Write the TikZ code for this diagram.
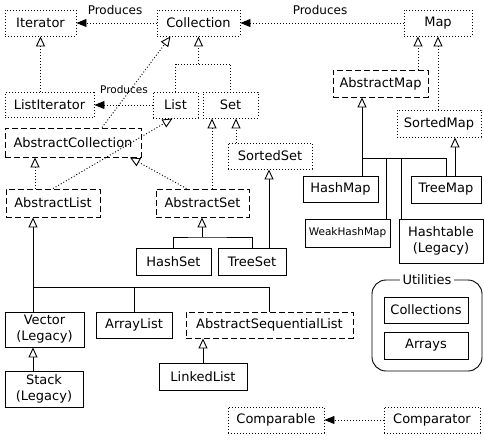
\documentclass[tikz,border=0pt]{standalone}
\usepackage{fontspec}
\setmainfont{DejaVu Sans}
\usepackage{tikz}
\usetikzlibrary{arrows.meta}
\usetikzlibrary{calc}

\begin{document}
\begin{tikzpicture}[x=1pt, y=-1pt, line width=0.9pt,
  box/.style={inner sep=0pt, align=center, font=\fontsize{13}{16}\selectfont},
  iface/.style={box, draw, dash pattern=on 1pt off 2pt},
  abstr/.style={box, draw, dash pattern=on 6pt off 3pt},
  concr/.style={box, draw},
  impl/.style={dash pattern=on 1pt off 2pt, -{Triangle[open, length=10pt, width=9pt]}},
  ext/.style={-{Triangle[open, length=10pt, width=9pt]}},
  prod/.style={dash pattern=on 1pt off 2pt, -{Triangle[length=10pt, width=8pt]}},
  lbl/.style={inner sep=0pt, font=\fontsize{12}{14}\selectfont}]
  \useasboundingbox (0,0) rectangle (484,439);

  % interfaces
  \node[iface, minimum width=71, minimum height=26] (Iterator) at (40.5,23) {Iterator};
  \node[iface, minimum width=83, minimum height=26] (Collection) at (198.5,23) {Collection};
  \node[iface, minimum width=68, minimum height=26] (Map) at (438,23) {Map};
  \node[iface, minimum width=89, minimum height=25] (ListIterator) at (49.5,105) {ListIterator};
  \node[iface, minimum width=45, minimum height=26] (List) at (175.5,105) {List};
  \node[iface, minimum width=55, minimum height=26] (Set) at (230.5,105) {Set};
  \node[iface, minimum width=84, minimum height=27] (SortedMap) at (439,123.5) {SortedMap};
  \node[iface, minimum width=84, minimum height=26] (SortedSet) at (270,156) {SortedSet};
  \node[iface, minimum width=96, minimum height=26] (Comparable) at (276,420) {Comparable};
  \node[iface, minimum width=96, minimum height=26] (Comparator) at (432,420) {Comparator};

  % abstract classes
  \node[abstr, minimum width=95, minimum height=27] (AbstractMap) at (380.5,83.5) {AbstractMap};
  \node[abstr, minimum width=136, minimum height=29] (AbstractCollection) at (73,142.5) {AbstractCollection};
  \node[abstr, minimum width=94, minimum height=28] (AbstractList) at (53,203) {AbstractList};
  \node[abstr, minimum width=93, minimum height=28] (AbstractSet) at (202.5,203) {AbstractSet};
  \node[abstr, minimum width=167, minimum height=26] (AbstractSequentialList) at (269.5,325) {AbstractSequentialList};

  % classes
  \node[concr, minimum width=75, minimum height=26] (HashMap) at (340.5,189) {HashMap};
  \node[concr, minimum width=70, minimum height=27] (TreeMap) at (446,189.5) {TreeMap};
  \node[concr, minimum width=85, minimum height=28, font=\fontsize{10.5}{12}\selectfont] (WeakHashMap) at (347.5,233) {WeakHashMap};
  \node[concr, minimum width=84, minimum height=44] (Hashtable) at (441,241) {Hashtable\\(Legacy)};
  \node[concr, minimum width=75, minimum height=27] (HashSet) at (173.5,261.5) {HashSet};
  \node[concr, minimum width=68, minimum height=27] (TreeSet) at (252,261.5) {TreeSet};
  \node[concr, minimum width=79, minimum height=35] (Vector) at (44.5,329.5) {Vector\\(Legacy)};
  \node[concr, minimum width=76, minimum height=26] (ArrayList) at (134,325) {ArrayList};
  \node[concr, minimum width=78, minimum height=36] (Stack) at (44,389) {Stack\\(Legacy)};
  \node[concr, minimum width=88, minimum height=27] (LinkedList) at (203,376.5) {LinkedList};

  % utilities
  \node[draw, rounded corners=14pt, minimum width=110, minimum height=91] (Utilities) at (427,325.5) {};
  \node[lbl, fill=white, inner xsep=3pt, font=\fontsize{13}{16}\selectfont] (UtilitiesLabel) at (Utilities.north) {Utilities};
  \node[concr, minimum width=84, minimum height=26] (Collections) at (426,310) {Collections};
  \node[concr, minimum width=84, minimum height=27] (Arrays) at (426,345.5) {Arrays};

  % produces
  \draw[prod] (Collection) -- (Iterator);
  \node[lbl] (ProducesIt) at (115,10) {Produces};
  \draw[prod] (Map) -- (Collection);
  \node[lbl] (ProducesCol) at (320,10) {Produces};
  \draw[prod] (List) -- (ListIterator);
  \node[lbl, font=\fontsize{10.5}{12}\selectfont] (ProducesLi) at (124,90) {Produces};
  \draw[prod] (Comparator) -- (Comparable);

  % interface hierarchy
  \draw[impl] (Iterator.south |- ListIterator.north) -- (Iterator.south);
  \coordinate (lsbar) at (198.5,64);
  \draw[dash pattern=on 1pt off 2pt] (List.north) |- (lsbar) -| (Set.north);
  \draw[impl] (lsbar) -- (Collection.south);
  \draw[impl] ($(SortedSet.north)+(-34,0)$) coordinate (ss) -- (ss |- Set.south);
  \draw[impl] ($(AbstractMap.north)+(37.5,0)$) coordinate (am) -- (am |- Map.south);
  \draw[impl] (Map.south |- SortedMap.north) -- (Map.south);

  % abstract classes
  \draw[impl] ($(AbstractCollection.north)+(29,0)$) -- ($(Collection.south)+(-28,0)$);
  \draw[impl] (AbstractList.north) -- ($(List.south)+(-3,0)$);
  \draw[impl] ($(AbstractList.north)+(-18,0)$) coordinate (al) -- (al |- AbstractCollection.south);
  \draw[impl] ($(AbstractSet.north)+(-16,0)$) -- ($(AbstractCollection.south)+(57,0)$);
  \draw[impl] ($(AbstractSet.north)+(9.5,0)$) coordinate (as) -- (as |- Set.south);

  % sets
  \coordinate (setbar) at (202,237);
  \draw (HashSet.north) |- (setbar) -| (TreeSet.north);
  \draw[ext] (setbar) -- (setbar |- AbstractSet.south);
  \draw[ext] ($(TreeSet.north)+(17,0)$) coordinate (ts) -- (ts |- SortedSet.south);

  % lists
  \coordinate (listbar) at (33,287);
  \draw[ext] (listbar) -- (listbar |- AbstractList.south);
  \draw (listbar |- Vector.north) -- (listbar) -- (AbstractSequentialList.north |- listbar) -- (AbstractSequentialList.north);
  \draw (ArrayList.north) -- (ArrayList.north |- listbar);
  \draw[ext] (listbar |- Stack.north) -- (listbar |- Vector.south);
  \draw[ext] (LinkedList.north) -- (LinkedList.north |- AbstractSequentialList.south);

  % maps
  \coordinate (mapbar) at (362,158);
  \draw[ext] (mapbar) -- (mapbar |- AbstractMap.south);
  \draw (mapbar |- HashMap.north) -- (mapbar) -- (TreeMap.north |- mapbar) -- (TreeMap.north);
  \foreach \x/\tgt in {386/WeakHashMap, 401/Hashtable}
    \draw (\x,158) -- (\x,158 |- \tgt.north);
  \draw[ext] ($(TreeMap.north)+(9,0)$) coordinate (tm) -- (tm |- SortedMap.south);
\end{tikzpicture}
\end{document}
